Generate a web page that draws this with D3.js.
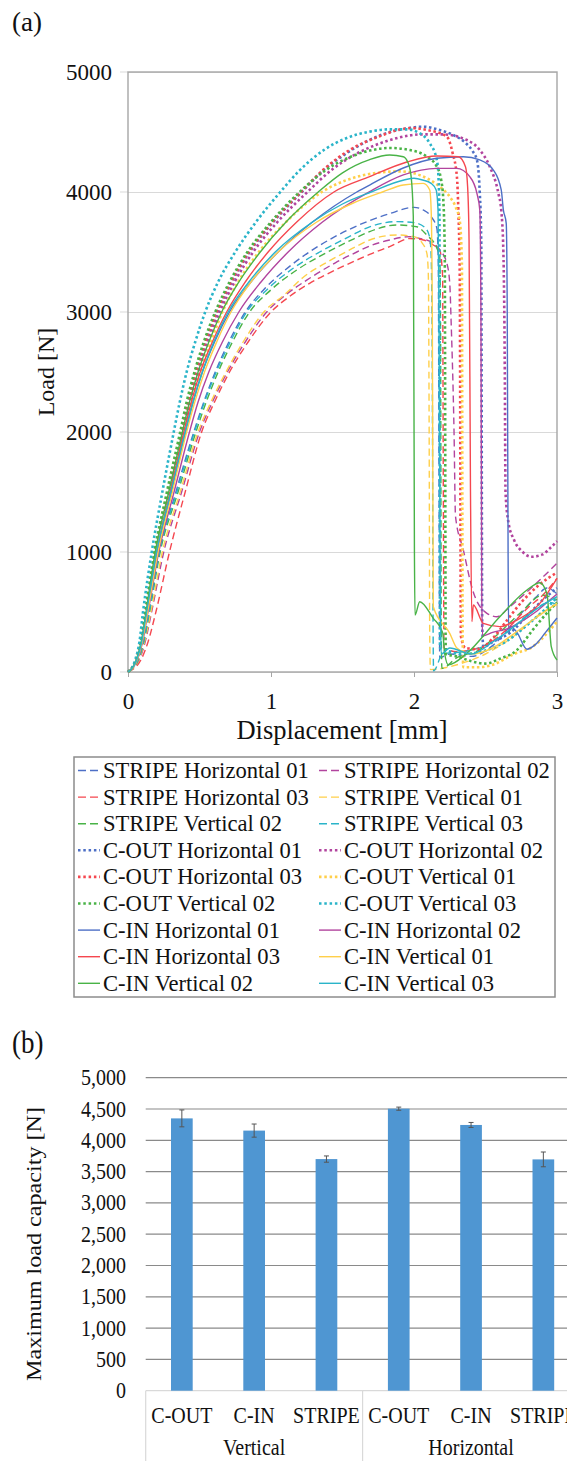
<!DOCTYPE html>
<html><head><meta charset="utf-8">
<script src="https://cdn.jsdelivr.net/npm/d3@7"></script>
<style>
html,body{margin:0;padding:0;background:#fff;}
svg{display:block;font-family:"Liberation Serif","Times New Roman",serif;}
</style></head><body>
<svg id="chart" width="567" height="1461"></svg>
<script>
// ---------------- DATA (a): load–displacement curves [mm, N] ----------------
const stripeH01 = [[0,0],[0.07,100],[0.108,250],[0.148,500],[0.22,1000],[0.335,1500],[0.46,2000],[0.53,2250],[0.61,2500],[0.705,2750],[0.82,3000],[0.96,3200],[1.13,3380],[1.32,3540],[1.55,3690],[1.83,3820],[2.0,3872],[2.065,3850],[2.12,3794],[2.16,3697],[2.17,3400],[2.175,1500],[2.18,120],[2.25,150],[2.4,130],[2.55,220],[2.7,420],[2.85,620],[2.93,700],[3.0,650]];
const stripeH02 = [[0,0],[0.078,100],[0.12,250],[0.165,500],[0.25,1000],[0.375,1500],[0.5,2000],[0.59,2250],[0.695,2500],[0.82,2750],[0.97,3000],[1.1,3140],[1.27,3281],[1.45,3410],[1.6,3500],[1.69,3550],[1.83,3600],[1.97,3628],[2.04,3614],[2.135,3572],[2.18,3517],[2.23,3406],[2.25,3239],[2.26,2906],[2.28,2000],[2.29,1300],[2.345,1017],[2.41,683],[2.51,489],[2.58,461],[2.67,544],[2.83,711],[3.0,906]];
const stripeH03 = [[0,0],[0.09,100],[0.14,250],[0.195,500],[0.29,1000],[0.4,1500],[0.515,2000],[0.605,2250],[0.71,2500],[0.84,2750],[1.0,3000],[1.13,3130],[1.27,3239],[1.45,3350],[1.6,3433],[1.69,3480],[1.83,3545],[1.97,3612],[2.065,3600],[2.135,3558],[2.18,3517],[2.2,3300],[2.205,1500],[2.21,200],[2.3,170],[2.45,200],[2.56,267],[2.67,380],[2.8,540],[2.9,640],[3.0,780]];
const stripeV01 = [[0,0],[0.075,100],[0.115,250],[0.16,500],[0.24,1000],[0.365,1500],[0.49,2000],[0.58,2250],[0.685,2500],[0.805,2750],[0.95,3000],[1.1,3150],[1.23,3294],[1.4,3420],[1.55,3517],[1.69,3600],[1.88,3642],[2.0,3628],[2.05,3586],[2.09,3489],[2.1,3322],[2.106,2000],[2.11,300],[2.115,20],[2.3,60],[2.5,150],[2.7,300],[2.9,500],[3.0,560]];
const stripeV02 = [[0,0],[0.072,100],[0.11,250],[0.15,500],[0.225,1000],[0.35,1500],[0.475,2000],[0.547,2250],[0.63,2500],[0.73,2750],[0.85,3000],[1.0,3185],[1.18,3350],[1.38,3490],[1.58,3610],[1.69,3670],[1.88,3725],[2.02,3710],[2.09,3640],[2.16,3531],[2.18,3461],[2.186,2800],[2.19,500],[2.195,30],[2.3,120],[2.45,180],[2.6,330],[2.75,500],[2.9,640],[3.0,600]];
const stripeV03 = [[0,0],[0.07,100],[0.108,250],[0.148,500],[0.22,1000],[0.342,1500],[0.465,2000],[0.535,2250],[0.617,2500],[0.715,2750],[0.83,3000],[0.975,3190],[1.15,3360],[1.34,3500],[1.55,3630],[1.69,3710],[1.88,3753],[2.0,3745],[2.08,3700],[2.11,3620],[2.12,3461],[2.128,2500],[2.133,500],[2.137,10],[2.2,150],[2.35,170],[2.5,220],[2.65,330],[2.8,480],[2.95,580],[3.0,560]];
const coutH01 = [[0,0],[0.058,100],[0.092,250],[0.127,500],[0.195,1000],[0.287,1500],[0.38,2000],[0.426,2250],[0.48,2500],[0.545,2750],[0.625,3000],[0.725,3250],[0.85,3500],[1.015,3750],[1.215,4000],[1.38,4195],[1.5,4300],[1.65,4410],[1.78,4480],[1.95,4530],[2.065,4544],[2.17,4520],[2.275,4475],[2.36,4410],[2.41,4340],[2.44,4267],[2.46,3992],[2.47,3600],[2.477,400],[2.485,210],[2.55,250],[2.67,325],[2.8,480],[2.9,600],[3.0,700]];
const coutH02 = [[0,0],[0.06,100],[0.094,250],[0.13,500],[0.2,1000],[0.295,1500],[0.39,2000],[0.437,2250],[0.493,2500],[0.56,2750],[0.642,3000],[0.745,3250],[0.875,3500],[1.045,3750],[1.255,4000],[1.43,4190],[1.6,4320],[1.75,4400],[1.9,4455],[2.05,4480],[2.2,4480],[2.37,4433],[2.46,4350],[2.53,4211],[2.59,3989],[2.61,3850],[2.625,3500],[2.635,2500],[2.64,1500],[2.66,1250],[2.7,1100],[2.76,1000],[2.82,960],[2.9,980],[2.95,1030],[3.0,1090]];
const coutH03 = [[0,0],[0.057,100],[0.09,250],[0.124,500],[0.19,1000],[0.28,1500],[0.375,2000],[0.42,2250],[0.475,2500],[0.54,2750],[0.62,3000],[0.72,3250],[0.845,3500],[1.01,3750],[1.21,4000],[1.38,4200],[1.55,4350],[1.75,4460],[1.9,4520],[1.98,4533],[2.1,4515],[2.23,4461],[2.27,4325],[2.3,4128],[2.31,3850],[2.32,3300],[2.328,300],[2.36,200],[2.45,190],[2.55,280],[2.65,430],[2.75,580],[2.88,730],[3.0,830]];
const coutV01 = [[0,0],[0.06,100],[0.094,250],[0.13,500],[0.2,1000],[0.3,1500],[0.4,2000],[0.45,2250],[0.51,2500],[0.58,2750],[0.66,3000],[0.77,3250],[0.915,3500],[1.105,3750],[1.355,4000],[1.53,4100],[1.72,4156],[1.9,4172],[2.0,4156],[2.09,4114],[2.18,4044],[2.25,3961],[2.29,3878],[2.32,3760],[2.335,3400],[2.34,300],[2.345,40],[2.45,40],[2.55,60],[2.7,150],[2.83,211],[2.95,350],[3.0,420]];
const coutV02 = [[0,0],[0.055,100],[0.088,250],[0.12,500],[0.185,1000],[0.272,1500],[0.365,2000],[0.41,2250],[0.465,2500],[0.53,2750],[0.61,3000],[0.71,3250],[0.835,3500],[1.0,3750],[1.2,4000],[1.38,4180],[1.55,4290],[1.69,4345],[1.83,4367],[1.97,4350],[2.09,4294],[2.16,4211],[2.19,4100],[2.205,3933],[2.215,3500],[2.222,150],[2.3,130],[2.4,90],[2.5,70],[2.6,110],[2.72,183],[2.83,350],[2.93,492],[3.0,580]];
const coutV03 = [[0,0],[0.05,100],[0.08,250],[0.105,500],[0.166,1000],[0.24,1500],[0.32,2000],[0.362,2250],[0.41,2500],[0.47,2750],[0.54,3000],[0.63,3250],[0.75,3500],[0.895,3750],[1.065,4000],[1.2,4180],[1.37,4350],[1.53,4450],[1.69,4503],[1.83,4522],[1.95,4522],[2.04,4489],[2.11,4406],[2.16,4267],[2.172,4100],[2.178,3800],[2.182,200],[2.25,170],[2.35,150],[2.5,180],[2.65,260],[2.8,400],[2.95,560],[3.0,620]];
const cinH01 = [[0,0],[0.062,100],[0.097,250],[0.134,500],[0.205,1000],[0.303,1500],[0.4,2000],[0.455,2250],[0.52,2500],[0.605,2750],[0.71,3000],[0.86,3250],[1.05,3500],[1.29,3750],[1.6,4000],[1.69,4058],[1.925,4200],[2.16,4281],[2.345,4294],[2.46,4267],[2.555,4183],[2.61,4017],[2.625,3850],[2.645,3739],[2.652,3000],[2.658,1000],[2.662,322],[2.675,380],[2.72,330],[2.79,190],[2.85,230],[2.92,330],[3.0,450]];
const cinH02 = [[0,0],[0.065,100],[0.102,250],[0.14,500],[0.215,1000],[0.322,1500],[0.43,2000],[0.49,2250],[0.565,2500],[0.66,2750],[0.775,3000],[0.93,3250],[1.12,3500],[1.36,3750],[1.69,4003],[1.925,4142],[2.16,4197],[2.3,4197],[2.39,4128],[2.44,3989],[2.46,3850],[2.468,3000],[2.474,600],[2.48,300],[2.55,330],[2.65,360],[2.75,420],[2.85,500],[2.93,580],[3.0,650]];
const cinH03 = [[0,0],[0.06,100],[0.095,250],[0.13,500],[0.2,1000],[0.295,1500],[0.39,2000],[0.443,2250],[0.505,2500],[0.59,2750],[0.69,3000],[0.82,3250],[0.98,3500],[1.18,3750],[1.44,4000],[1.69,4128],[1.95,4250],[2.16,4300],[2.31,4294],[2.36,4211],[2.375,4044],[2.385,3600],[2.395,1500],[2.405,420],[2.415,558],[2.485,405],[2.6,378],[2.72,433],[2.88,572],[3.0,781]];
const cinV01 = [[0,0],[0.063,100],[0.099,250],[0.137,500],[0.21,1000],[0.31,1500],[0.41,2000],[0.467,2250],[0.535,2500],[0.62,2750],[0.72,3000],[0.86,3250],[1.05,3500],[1.32,3750],[1.56,3900],[1.78,4000],[1.925,4058],[2.065,4072],[2.11,4017],[2.12,3850],[2.128,3000],[2.135,544],[2.25,322],[2.3,200],[2.4,150],[2.55,200],[2.7,320],[2.85,450],[3.0,572]];
const cinV02 = [[0,0],[0.058,100],[0.092,250],[0.126,500],[0.19,1000],[0.285,1500],[0.38,2000],[0.43,2250],[0.49,2500],[0.565,2750],[0.655,3000],[0.775,3250],[0.925,3500],[1.105,3750],[1.33,4000],[1.5,4160],[1.69,4270],[1.83,4308],[1.925,4294],[1.96,4239],[1.98,4128],[1.995,3800],[2.003,1000],[2.007,475],[2.04,586],[2.135,447],[2.2,330],[2.215,150],[2.24,60],[2.37,156],[2.6,461],[2.79,683],[2.88,744],[2.93,650],[2.96,211],[3.0,100]];
const cinV03 = [[0,0],[0.06,100],[0.095,250],[0.13,500],[0.2,1000],[0.3,1500],[0.4,2000],[0.455,2250],[0.52,2500],[0.6,2750],[0.7,3000],[0.845,3250],[1.03,3500],[1.29,3750],[1.5,3900],[1.7,4000],[1.93,4100],[2.0,4114],[2.06,4100],[2.12,4072],[2.155,4017],[2.168,3850],[2.175,3000],[2.182,1000],[2.19,150],[2.25,200],[2.4,150],[2.55,250],[2.7,380],[2.85,520],[3.0,628]];

const seriesNames = ["STRIPE Horizontal 01","STRIPE Horizontal 02","STRIPE Horizontal 03","STRIPE Vertical 01","STRIPE Vertical 02","STRIPE Vertical 03",
  "C-OUT Horizontal 01","C-OUT Horizontal 02","C-OUT Horizontal 03","C-OUT Vertical 01","C-OUT Vertical 02","C-OUT Vertical 03",
  "C-IN Horizontal 01","C-IN Horizontal 02","C-IN Horizontal 03","C-IN Vertical 01","C-IN Vertical 02","C-IN Vertical 03"];
const seriesValues = [stripeH01,stripeH02,stripeH03,stripeV01,stripeV02,stripeV03,coutH01,coutH02,coutH03,coutV01,coutV02,coutV03,cinH01,cinH02,cinH03,cinV01,cinV02,cinV03];
const loadTicks = [0,1000,2000,3000,4000,5000];
const dispTicks = [0,1,2,3];

// ---------------- DATA (b): maximum load capacity ----------------
const barCategories = ["C-OUT","C-IN","STRIPE","C-OUT","C-IN","STRIPE"];
const barGroups = ["Vertical","Horizontal"];
const maxLoad = [4350,4155,3700,4505,4245,3695];
const maxLoadErr = [135,105,50,25,40,118];
const capacityTicks = [0,500,1000,1500,2000,2500,3000,3500,4000,4500,5000];

// ---------------- STYLE ----------------
const palette = ["#4d6fc6","#b2449e","#f5474f","#ffcf4a","#49b347","#2ab4c9"];
const kindStyle = [
  {dash:"7,4", width:1.4, legendDash:"8,4"},
  {dash:"2.5,2.6", width:2.6, legendDash:"2.5,2.8"},
  {dash:null, width:1.4, legendDash:null}
];

const svg = d3.select("#chart");
const W = 567;

// ======== (a) ========
svg.append("text").attr("x",12).attr("y",31).attr("font-size",27).attr("fill","#111").text("(a)");

const x = d3.scaleLinear().domain([0,3]).range([128,557]);
const y = d3.scaleLinear().domain([0,5000]).range([672,72]);

const yAxis = d3.axisLeft(y).tickValues(loadTicks).tickSizeInner(-(x(3)-x(0))).tickSizeOuter(0).tickPadding(16).tickFormat(d3.format("d"));
const gy = svg.append("g").attr("transform",`translate(${x(0)},0)`).call(yAxis).attr("font-family",null);
gy.select(".domain").remove();
gy.selectAll(".tick line").attr("stroke","#d9d9d9").attr("stroke-width",1);
gy.selectAll(".tick text").attr("font-size",23).attr("fill","#111");
svg.append("g").selectAll("line").data(loadTicks).join("line")
  .attr("x1",x(0)-8).attr("x2",x(0)).attr("y1",d=>y(d)).attr("y2",d=>y(d))
  .attr("stroke","#d9d9d9").attr("stroke-width",1);

const xAxis = d3.axisBottom(x).tickValues(dispTicks).tickSize(5).tickPadding(16).tickFormat(d3.format("d"));
const gx = svg.append("g").attr("transform",`translate(0,${y(0)})`).call(xAxis).attr("font-family",null);
gx.select(".domain").remove();
gx.selectAll(".tick line").attr("stroke","#a6a6a6");
gx.selectAll(".tick text").attr("font-size",23).attr("fill","#111");

svg.append("rect").attr("x",x(0)).attr("y",y(5000)).attr("width",x(3)-x(0)).attr("height",y(0)-y(5000))
  .attr("fill","none").attr("stroke","#a6a6a6").attr("stroke-width",1.4);

svg.append("text").attr("x",342).attr("y",739).attr("text-anchor","middle").attr("font-size",26.5).attr("fill","#111").text("Displacement [mm]");
svg.append("text").attr("transform","translate(54,372) rotate(-90)").attr("text-anchor","middle").attr("font-size",24).attr("fill","#111").text("Load [N]");

svg.append("clipPath").attr("id","plotclip").append("rect")
  .attr("x",x(0)-2).attr("y",y(5000)).attr("width",x(3)-x(0)+3).attr("height",y(0)-y(5000)+1);

const line = d3.line().curve(d3.curveMonotoneX).x(d=>x(d[0])).y(d=>y(d[1]));
const gl = svg.append("g").attr("clip-path","url(#plotclip)");
seriesValues.forEach((vals,i)=>{
  const st = kindStyle[Math.floor(i/6)];
  const p = gl.append("path").datum(vals).attr("d",line)
    .attr("fill","none").attr("stroke",palette[i%6]).attr("stroke-width",st.width)
    .attr("stroke-linejoin","round");
  if(st.dash) p.attr("stroke-dasharray",st.dash);
});

// legend
const lg = svg.append("g");
lg.append("rect").attr("x",74).attr("y",757).attr("width",481).attr("height",240)
  .attr("fill","#fff").attr("stroke","#8c8c8c").attr("stroke-width",1.5);
seriesNames.forEach((name,i)=>{
  const col = i%2, row = Math.floor(i/2);
  const cy = 770.5 + row*26.6;
  const x0 = col ? 319 : 78;
  const st = kindStyle[Math.floor(i/6)];
  const l = lg.append("line").attr("x1",x0).attr("x2",x0+22).attr("y1",cy).attr("y2",cy)
    .attr("stroke",palette[i%6]).attr("stroke-width",st.width);
  if(st.legendDash) l.attr("stroke-dasharray",st.legendDash);
  lg.append("text").attr("x",x0+25).attr("y",cy+7.5).attr("font-size",22.6).attr("fill","#111").text(name);
});

// ======== (b) ========
const SY = 1.15;
svg.append("text").attr("transform",`translate(12,1053) scale(1,${SY})`).attr("font-size",27).attr("fill","#111").text("(b)");

const xb = d3.scaleBand().domain(d3.range(barCategories.length)).range([145.7,579.5]).paddingInner(0.7).paddingOuter(0.35);
const yb = d3.scaleLinear().domain([0,5000]).range([1390.7,1077.7]);

svg.append("g").selectAll("line").data(capacityTicks.filter(d=>d>0)).join("line")
  .attr("x1",145.7).attr("x2",W).attr("y1",d=>yb(d)).attr("y2",d=>yb(d))
  .attr("stroke","#8a8a8a").attr("stroke-width",1.2);
const fmt = d3.format(",");
svg.append("g").selectAll("text").data(capacityTicks).join("text")
  .attr("transform",d=>`translate(126,${yb(d)+7.5}) scale(1,${SY})`)
  .attr("text-anchor","end").attr("font-size",20).attr("fill","#111").text(d=>fmt(d));
svg.append("text").attr("transform",`translate(41,1244) rotate(-90) scale(${SY},1)`)
  .attr("text-anchor","middle").attr("font-size",21).attr("fill","#111").text("Maximum load capacity [N]");

svg.append("line").attr("x1",145.7).attr("x2",W).attr("y1",yb(0)).attr("y2",yb(0)).attr("stroke","#d9d9d9").attr("stroke-width",1.2);
const sepIdx = [0,3,6];
svg.append("g").selectAll("line").data(sepIdx).join("line")
  .attr("x1",d=>d<6? xb(d)-xb.step()*0.35 : 579.5).attr("x2",d=>d<6? xb(d)-xb.step()*0.35 : 579.5)
  .attr("y1",yb(0)).attr("y2",1461).attr("stroke","#d9d9d9").attr("stroke-width",1.2);

svg.append("g").selectAll("rect").data(maxLoad).join("rect")
  .attr("x",(d,i)=>xb(i)).attr("width",xb.bandwidth())
  .attr("y",d=>yb(d)).attr("height",d=>yb(0)-yb(d)).attr("fill","#4f96d2");
const eg = svg.append("g").attr("stroke","#555").attr("stroke-width",1);
maxLoad.forEach((v,i)=>{
  const cx = xb(i)+xb.bandwidth()/2, e = maxLoadErr[i];
  eg.append("line").attr("x1",cx).attr("x2",cx).attr("y1",yb(v-e)).attr("y2",yb(v+e));
  eg.append("line").attr("x1",cx-2.5).attr("x2",cx+2.5).attr("y1",yb(v-e)).attr("y2",yb(v-e));
  eg.append("line").attr("x1",cx-2.5).attr("x2",cx+2.5).attr("y1",yb(v+e)).attr("y2",yb(v+e));
});
svg.append("g").selectAll("text").data(barCategories).join("text")
  .attr("transform",(d,i)=>`translate(${xb(i)+xb.bandwidth()/2},1422.5) scale(1,${SY})`)
  .attr("text-anchor","middle").attr("font-size",20).attr("fill","#111").text(d=>d);
svg.append("g").selectAll("text").data(barGroups).join("text")
  .attr("transform",(d,i)=>`translate(${(xb(i*3)+xb(i*3+2)+xb.bandwidth())/2},1455) scale(1,${SY})`)
  .attr("text-anchor","middle").attr("font-size",20).attr("fill","#111").text(d=>d);
</script></body></html>
